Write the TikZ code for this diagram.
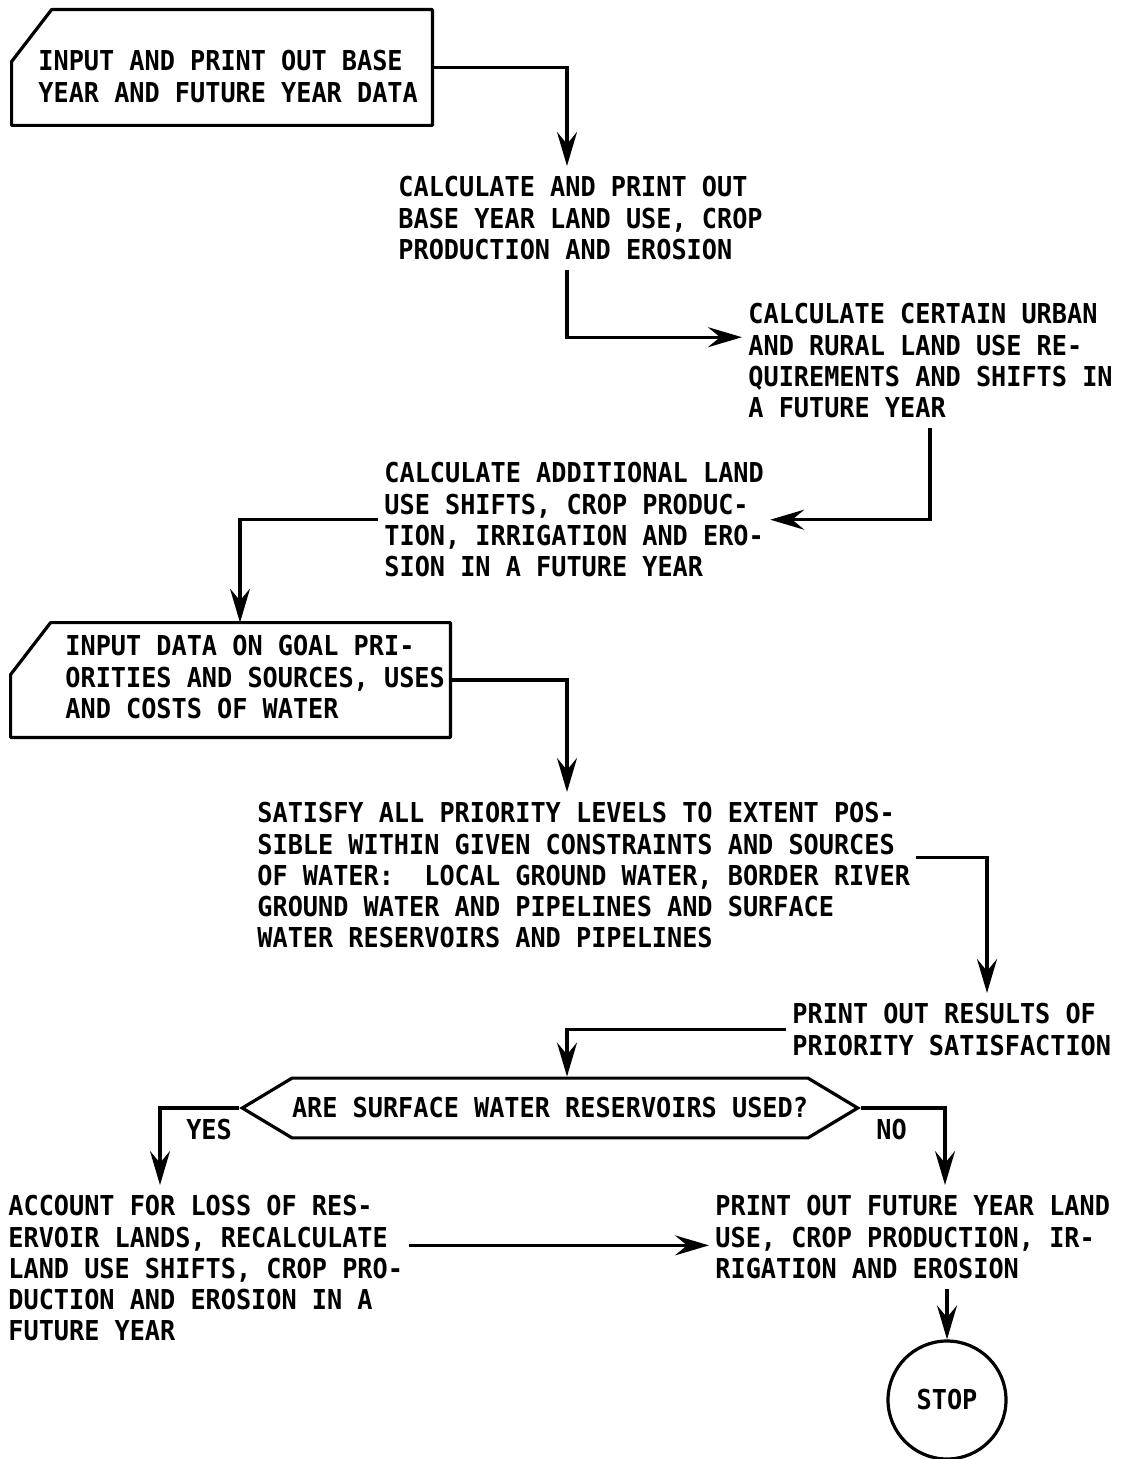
\documentclass[tikz,border=0pt]{standalone}
\usepackage{fontspec}
\setmainfont{DejaVu Sans Mono}[FakeStretch=0.92]
\usetikzlibrary{positioning,shapes.symbols,arrows.meta}

% outline of an input card, corner cut at the top left
\newcommand{\cardoutline}[1]{%
    \draw[cardline] ([yshift=-26pt]#1.north west) -- ([xshift=20pt]#1.north west)
        -- (#1.north east) -- (#1.south east) -- (#1.south west) -- cycle;}

\begin{document}
\begin{tikzpicture}[
        x=0.5pt, y=-0.5pt,
        every node/.style={font=\fontsize{13.7}{15.65}\selectfont\bfseries},
        textnode/.style={align=left, inner xsep=3pt, inner ysep=5pt},
        cardnode/.style={rectangle, inner sep=0pt},
        cardline/.style={line width=1.6pt, line join=round},
        decisionnode/.style={signal, signal to=east and west, signal pointer angle=62,
            draw, line width=1.6pt, inner xsep=0pt, inner ysep=9.75pt},
        stopnode/.style={circle, draw, line width=1.6pt, minimum size=59pt, inner sep=0pt},
        flowline/.style={-{Stealth[length=17pt, width=10pt, inset=6pt]}, line width=1.6pt}
        ]
        \useasboundingbox (0,0) rectangle (1127,1459);

        % columns the flow lines run down
        \coordinate (cA) at (567,0);
        \coordinate (cB) at (930,0);
        \coordinate (cC) at (240,0);
        \coordinate (cD) at (987,0);
        \coordinate (cY) at (160,0);
        \coordinate (cN) at (945,0);

        % input cards
        \node[cardnode, minimum width=210pt, minimum height=57.5pt] (in1) at (222,67.5) {};
        \cardoutline{in1}
        \node[textnode, anchor=north west, inner sep=0pt] (in1text) at (38,50)
            {INPUT AND PRINT OUT BASE\\YEAR AND FUTURE YEAR DATA};
        \node[cardnode, minimum width=219.5pt, minimum height=57pt] (in2) at (230.5,680) {};
        \cardoutline{in2}
        \node[textnode, anchor=north west, inner sep=0pt] (in2text) at (65,635)
            {INPUT DATA ON GOAL PRI-\\ORITIES AND SOURCES, USES\\AND COSTS OF WATER};

        % processing steps
        \node[textnode, anchor=north west] (calc1) at (392,166)
            {CALCULATE AND PRINT OUT\\BASE YEAR LAND USE, CROP\\PRODUCTION AND EROSION};
        \node[textnode, anchor=north west] (rural) at (742,293)
            {CALCULATE CERTAIN URBAN\\AND RURAL LAND USE RE-\\QUIREMENTS AND SHIFTS IN\\A FUTURE YEAR};
        \node[textnode, anchor=north west] (addl) at (378,452)
            {CALCULATE ADDITIONAL LAND\\USE SHIFTS, CROP PRODUC-\\TION, IRRIGATION AND ERO-\\SION IN A FUTURE YEAR};
        \node[textnode, anchor=north west] (satisfy) at (251,792)
            {SATISFY ALL PRIORITY LEVELS TO EXTENT POS-\\SIBLE WITHIN GIVEN CONSTRAINTS AND SOURCES\\OF WATER:\ \ LOCAL GROUND WATER, BORDER RIVER\\GROUND WATER AND PIPELINES AND SURFACE\\WATER RESERVOIRS AND PIPELINES};
        \node[textnode, anchor=north west] (results) at (786,993)
            {PRINT OUT RESULTS OF\\PRIORITY SATISFACTION};
        \node[decisionnode] (decide) at (550,1108) {ARE SURFACE WATER RESERVOIRS USED?};
        \node[textnode, anchor=north west] (loss) at (2,1185)
            {ACCOUNT FOR LOSS OF RES-\\ERVOIR LANDS, RECALCULATE\\LAND USE SHIFTS, CROP PRO-\\DUCTION AND EROSION IN A\\FUTURE YEAR};
        \node[textnode, anchor=north west] (final) at (709,1185)
            {PRINT OUT FUTURE YEAR LAND\\USE, CROP PRODUCTION, IR-\\RIGATION AND EROSION};
        \node[stopnode] (stop) at (947,1400) {STOP};

        % flow lines
        \draw[flowline] (in1.east) -| (cA |- calc1.north);
        \draw[flowline] (cA |- calc1.south) |- ([yshift=11.75pt]rural.west);
        \draw[flowline] (cB |- rural.south) |- (addl.east);
        \draw[flowline] (addl.west) -| (cC |- in2.north);
        \draw[flowline] (in2.east) -| (cA |- satisfy.north);
        \draw[flowline] ([yshift=9pt]satisfy.east) -| (cD |- results.north);
        \draw[flowline] (results.west) -| (cA |- decide.north);
        \draw[flowline] (decide.west) -| node[pos=0.64, anchor=west, xshift=9pt] (yes) {YES} (cY |- loss.north);
        \draw[flowline] (decide.east) -| node[pos=0.64, anchor=east, xshift=-15pt] (no) {NO} (cN |- final.north);
        \draw[flowline] ([yshift=11.5pt]loss.east) coordinate (lossout) -- (lossout -| final.west);
        \draw[flowline] (stop.north |- final.south) -- (stop.north);
\end{tikzpicture}
\end{document}
